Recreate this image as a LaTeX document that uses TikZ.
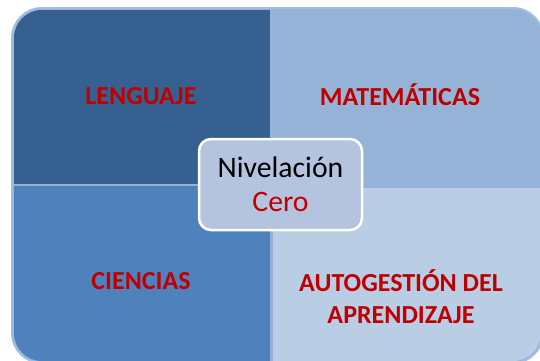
\documentclass[tikz,border=0pt]{standalone}
\usepackage{fontspec}
\setmainfont{Carlito}
\usetikzlibrary{positioning}
\definecolor{frameblue}{RGB}{149,179,215}
\definecolor{rimblue}{RGB}{160,190,226}
\definecolor{darkblue}{RGB}{54,96,143}
\definecolor{midblue}{RGB}{79,129,189}
\definecolor{paleblue}{RGB}{185,205,229}
\definecolor{hubblue}{RGB}{180,196,223}
\definecolor{labelred}{RGB}{192,0,0}
\tikzset{
  area/.style={font=\fontsize{26}{32}\selectfont\bfseries, text=labelred, align=center, inner sep=0pt},
  hubbox/.style={draw=white, line width=2.5pt, fill=hubblue, rounded corners=12pt,
    minimum width=163pt, minimum height=91pt, align=center,
    font=\fontsize{29.7}{34}\selectfont},
}

\begin{document}
\begin{tikzpicture}[x=1pt,y=-1pt]
    \useasboundingbox (0,0) rectangle (540,360);
    \fill[frameblue, rounded corners=30pt] (12,8) rectangle (543,363);
    \begin{scope}
        \clip[rounded corners=28pt] (14,10) rectangle (541,361);
        \fill[darkblue] (14,10) rectangle (270,184);
        \fill[midblue] (14,186) rectangle (270,361);
        \fill[paleblue] (273,188) rectangle (541,361);
    \end{scope}
    \draw[rimblue, line width=2pt, rounded corners=30pt] (12,8) rectangle (543,363);

    \node[area] (lenguaje) at (141,96) {LENGUAJE};
    \node[area] (matematicas) at (400,95) {MATEMÁTICAS};
    \node[area] (ciencias) at (141,281) {CIENCIAS};
    \node[area] (autogestion) at (401,297) {AUTOGESTIÓN DEL\\APRENDIZAJE};

    \node[hubbox] (hub) at (280.5,184.5) {Nivelación\\\textcolor{labelred}{Cero}};
\end{tikzpicture}
\end{document}
